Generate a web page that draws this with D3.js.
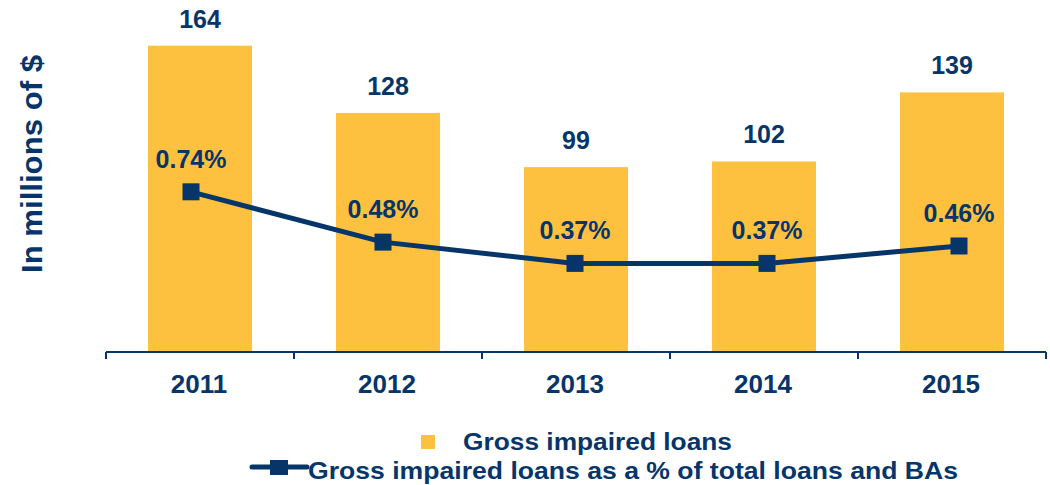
<!DOCTYPE html>
<html>
<head>
<meta charset="utf-8">
<script src="https://cdn.jsdelivr.net/npm/d3@7"></script>
<style>
  html, body { margin: 0; padding: 0; background: #fff; }
  svg { display: block; font-family: "Liberation Sans", Arial, sans-serif; font-weight: bold; }
</style>
</head>
<body>
<svg id="chart" width="1050" height="485"></svg>
<script>
// Gross impaired loans, 2011-2015
const years = ["2011", "2012", "2013", "2014", "2015"];
const impairedLoans = [164, 128, 99, 102, 139];          // millions of $
const impairedPct = [0.74, 0.48, 0.37, 0.37, 0.46];      // % of total loans and BAs
const legendLabels = ["Gross impaired loans", "Gross impaired loans as a % of total loans and BAs"];
const yTitle = "In millions of $";

const NAVY = "#06356A";
const GOLD = "#FDC13F";

const svg = d3.select("#chart");

// Primary scales (bars)
const x = d3.scaleBand().domain(years).range([106, 1046])
  .paddingInner(0.447).paddingOuter(0.2235);
const y = d3.scaleLinear().domain([0, 180]).range([352, 15.8]);

// Secondary scales (ratio line)
const xLine = d3.scalePoint().domain(years).range([191, 959]);
const y2 = d3.scaleLinear().domain([0, 1]).range([335, 141.5]);

// Bars
svg.append("g").selectAll("rect").data(years).join("rect")
  .attr("x", d => x(d))
  .attr("width", x.bandwidth())
  .attr("y", (d, i) => y(impairedLoans[i]))
  .attr("height", (d, i) => y(0) - y(impairedLoans[i]))
  .attr("fill", GOLD);

// Bar value labels
svg.append("g").selectAll("text").data(years).join("text")
  .attr("x", d => x(d) + x.bandwidth() / 2)
  .attr("y", (d, i) => y(impairedLoans[i]) - 18)
  .attr("text-anchor", "middle")
  .attr("font-size", 25)
  .attr("fill", NAVY)
  .text((d, i) => impairedLoans[i]);

// Category axis: baseline with ticks at band boundaries
const axisG = svg.append("g");
axisG.append("line")
  .attr("x1", x.range()[0]).attr("x2", x.range()[1])
  .attr("y1", y(0)).attr("y2", y(0))
  .attr("stroke", NAVY).attr("stroke-width", 2);
const boundaries = d3.range(years.length + 1).map(i => x.range()[0] + i * x.step());
axisG.selectAll("line.tick").data(boundaries).join("line")
  .attr("class", "tick")
  .attr("x1", d => d).attr("x2", d => d)
  .attr("y1", y(0)).attr("y2", y(0) + 7)
  .attr("stroke", NAVY).attr("stroke-width", 2);
axisG.selectAll("text").data(years).join("text")
  .attr("x", d => x(d) + x.bandwidth() / 2 - 1)
  .attr("y", 393)
  .attr("text-anchor", "middle")
  .attr("font-size", 26)
  .attr("fill", NAVY)
  .text(d => d);

// Ratio line
const line = d3.line()
  .x((d, i) => xLine(years[i]))
  .y(d => y2(d));
svg.append("path")
  .datum(impairedPct)
  .attr("d", line)
  .attr("fill", "none")
  .attr("stroke", NAVY)
  .attr("stroke-width", 5);

const M = 17;
svg.append("g").selectAll("rect").data(impairedPct).join("rect")
  .attr("x", (d, i) => xLine(years[i]) - M / 2)
  .attr("y", d => y2(d) - M / 2)
  .attr("width", M).attr("height", M)
  .attr("fill", NAVY);

// Ratio labels
svg.append("g").selectAll("text").data(impairedPct).join("text")
  .attr("x", (d, i) => xLine(years[i]))
  .attr("y", d => y2(d) - 24)
  .attr("text-anchor", "middle")
  .attr("font-size", 25)
  .attr("fill", NAVY)
  .text(d => d.toFixed(2) + "%");

// Y-axis title
svg.append("text")
  .attr("transform", "translate(42,164) rotate(-90)")
  .attr("text-anchor", "middle")
  .attr("font-size", 30)
  .attr("textLength", 218).attr("lengthAdjust", "spacingAndGlyphs")
  .attr("fill", NAVY)
  .text(yTitle);

// Legend
const lg = svg.append("g");
lg.append("rect")
  .attr("x", 421).attr("y", 435).attr("width", 14).attr("height", 14)
  .attr("fill", GOLD);
lg.append("text")
  .attr("x", 463).attr("y", 450)
  .attr("font-size", 24)
  .attr("textLength", 269).attr("lengthAdjust", "spacingAndGlyphs")
  .attr("fill", NAVY)
  .text(legendLabels[0]);
lg.append("line")
  .attr("x1", 252).attr("x2", 307).attr("y1", 467).attr("y2", 467)
  .attr("stroke", NAVY).attr("stroke-width", 5).attr("stroke-linecap", "round");
lg.append("rect")
  .attr("x", 270).attr("y", 460).attr("width", 18).attr("height", 15)
  .attr("fill", NAVY);
lg.append("text")
  .attr("x", 308).attr("y", 479)
  .attr("font-size", 24)
  .attr("textLength", 650).attr("lengthAdjust", "spacingAndGlyphs")
  .attr("fill", NAVY)
  .text(legendLabels[1]);
</script>
</body>
</html>
